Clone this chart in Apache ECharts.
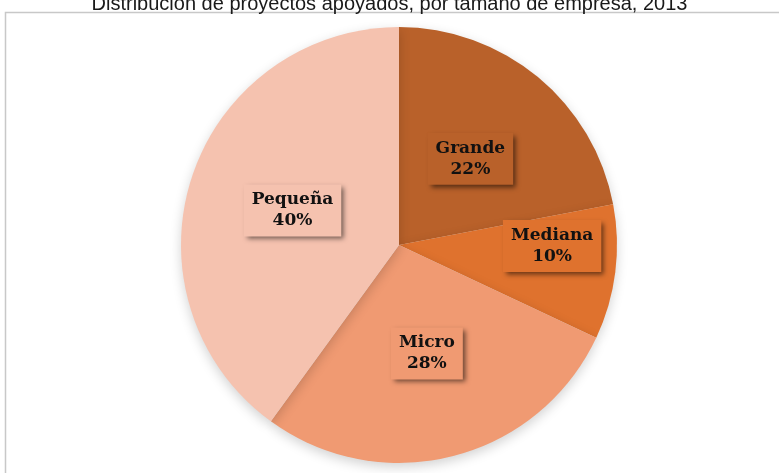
<!DOCTYPE html>
<html>
<head>
<meta charset="utf-8">
<script src="https://cdn.jsdelivr.net/npm/echarts@6/dist/echarts.min.js"></script>
<style>
  html, body { margin: 0; padding: 0; background: #fff; }
  #chart { width: 779px; height: 473px; }
</style>
</head>
<body>
<div id="chart"></div>
<script>
// 数据
const categories = ['Grande', 'Mediana', 'Micro', 'Pequeña'];
const shares = [22, 10, 28, 40];
const colors = ['#B9612A', '#DF722E', '#F09A72', '#F5C2AF'];

const myChart = echarts.init(document.getElementById('chart'));

const labelBox = (color) => ({
  backgroundColor: color,
  padding: [5, 8, 5, 8],
  shadowColor: 'rgba(0,0,0,0.55)',
  shadowBlur: 5,
  shadowOffsetX: 3,
  shadowOffsetY: 3
});

const option = {
  title: {
    text: 'Distribución de proyectos apoyados, por tamaño de empresa, 2013',
    left: 'center',
    top: -11,
    textStyle: {
      fontFamily: 'Liberation Sans',
      fontSize: 20,
      fontWeight: 'normal',
      color: '#1a1a1a'
    }
  },
  graphic: [
    {
      type: 'rect',
      shape: { x: 5.5, y: 12.5, width: 790, height: 480 },
      style: { fill: 'none', stroke: '#c8c8c8', lineWidth: 1.5 },
      z: -1
    }
  ],
  series: [
    {
      type: 'pie',
      center: [399, 245],
      radius: 218,
      startAngle: 90,
      clockwise: true,
      animation: false,
      itemStyle: {
        shadowColor: 'rgba(0,0,0,0.18)',
        shadowBlur: 12,
        shadowOffsetY: 4
      },
      label: {
        show: true,
        position: 'inside',
        formatter: '{b}\n{c}%',
        fontFamily: 'DejaVu Serif',
        fontWeight: 'bold',
        fontSize: 17,
        lineHeight: 21,
        color: '#111'
      },
      labelLine: { show: false },
      data: categories.map((name, i) => {
        const item = {
          name: name,
          value: shares[i],
          itemStyle: { color: colors[i] },
          label: labelBox(colors[i])
        };
        if (name === 'Mediana') {
          item.label.offset = [42, -13];
        }
        return item;
      })
    }
  ]
};

myChart.setOption(option);
</script>
</body>
</html>
